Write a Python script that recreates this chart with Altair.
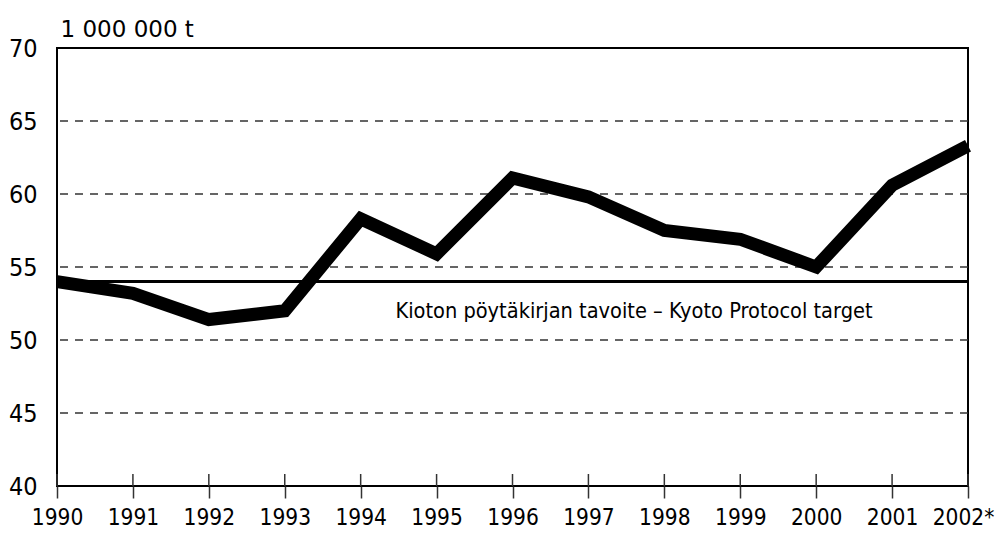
import altair as alt
import pandas as pd

years = list(range(1990, 2003))
emissions = [54.0, 53.2, 51.4, 52.0, 58.3, 55.9, 61.1, 59.8, 57.5, 56.9, 55.0, 60.6, 63.3]
kyoto_target = 54.0
grid_values = [45, 50, 55, 60, 65]
y_ticks = [40, 45, 50, 55, 60, 65, 70]
unit_title = "1 000 000 t"
target_label = "Kioton pöytäkirjan tavoite – Kyoto Protocol target"
target_label_x = 1997.6
target_label_y = 51.9

W, H = 911, 438
COND = "DejaVu Sans Condensed, Noto Sans, sans-serif"
REG = "DejaVu Sans, Verdana, sans-serif"

df = pd.DataFrame({"year": years, "value": emissions})
grid_df = pd.DataFrame({"g": grid_values})
lab_df = pd.DataFrame({"year": [target_label_x], "value": [target_label_y], "text": [target_label]})

xscale = alt.Scale(domain=[1990, 2002], nice=False, zero=False)
yscale = alt.Scale(domain=[40, 70], nice=False, zero=False)

xaxis = alt.Axis(
    values=years, format="d", labelExpr="datum.value == 2002 ? '2002*' : datum.label",
    title=None, domain=False, grid=False, tickSize=12, tickColor="#333", tickWidth=1.5,
    labelFont=COND, labelFontSize=22.5, labelColor="black", labelPadding=8,
    labelOffset={"condition": {"test": "datum.value == 2002", "value": -5}, "value": 0},
    labelFlush=False, labelOverlap=False,
)
yaxis = alt.Axis(
    values=y_ticks, title=unit_title, titleAngle=0, titleAlign="left", titleBaseline="alphabetic",
    titleX=3, titleY=-12, titleFont=REG, titleFontSize=23, titleFontWeight="normal", titleColor="black",
    domain=False, grid=False, ticks=False, labelPadding=20,
    labelFont=COND, labelFontSize=25, labelColor="black", labelFlush=False,
)

grid = alt.Chart(grid_df).mark_rule(color="#333", strokeWidth=1.5, strokeDash=[8, 7]).encode(
    y=alt.Y("g:Q", scale=yscale, axis=yaxis)
)

inner_ticks = alt.Chart(df).mark_rule(color="#333", strokeWidth=1.5).encode(
    x=alt.X("year:Q", scale=xscale, axis=xaxis),
    y=alt.value(H - 12), y2=alt.value(H),
)

target = alt.Chart(grid_df).mark_rule(color="black", strokeWidth=2.5).encode(
    y=alt.datum(kyoto_target)
)

line = alt.Chart(df).mark_line(color="black", strokeWidth=13, strokeJoin="miter", strokeCap="butt").encode(
    x=alt.X("year:Q", scale=xscale, axis=xaxis),
    y=alt.Y("value:Q", scale=yscale, axis=yaxis),
)

label = alt.Chart(lab_df).mark_text(font=COND, fontSize=21.6, color="black", align="center", baseline="middle").encode(
    x=alt.X("year:Q", scale=xscale),
    y=alt.Y("value:Q", scale=yscale),
    text="text:N",
)

chart = alt.layer(grid, inner_ticks, target, line, label).properties(
    width=W, height=H,
    autosize=alt.AutoSizeParams(type="none"),
    padding={"left": 49, "top": 40, "right": 29, "bottom": 46},
    background="white",
).configure_view(stroke="black", strokeWidth=2)

chart.save("out.html", embed_options={"renderer": "svg", "actions": False})
